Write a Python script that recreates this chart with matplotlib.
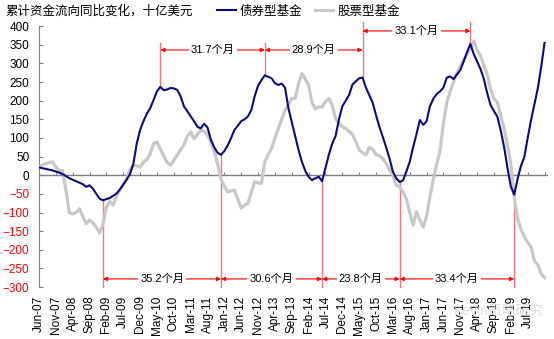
import numpy as np
import pandas as pd
import matplotlib
matplotlib.use("Agg")
import matplotlib.pyplot as plt

plt.rcParams['font.family'] = ['Liberation Sans', 'Noto Sans CJK SC', 'DejaVu Sans']
CJK = ['Noto Sans CJK SC', 'DejaVu Sans']

# monthly, Jun-2007 .. Dec-2019
start_month = '2007-06'
bond = [21, 19, 17, 15, 13, 10, 7, 3, -2, -8, -12, -16, -20, -24, -31, -27, -36, -50, -63, -67,
        -64, -61, -55, -49, -38, -25, -12, 3, 31, 85, 122, 145, 165, 180, 202, 225, 237, 228, 230, 234,
        233, 229, 212, 185, 172, 158, 145, 130, 126, 138, 128, 95, 75, 60, 55, 65, 80, 100, 122, 133,
        145, 150, 158, 175, 212, 240, 255, 268, 264, 260, 247, 242, 246, 235, 180, 143, 105, 68, 36, 12,
        -4, -13, -8, -4, -16, 20, 55, 85, 105, 150, 185, 200, 215, 243, 252, 260, 262, 235, 215, 195,
        161, 130, 103, 75, 45, 10, -8, -18, -14, 10, 36, 75, 110, 148, 135, 145, 185, 205, 218, 225,
        235, 262, 265, 258, 270, 282, 305, 330, 352, 325, 305, 285, 258, 220, 188, 172, 157, 120, 76, 20,
        -30, -52, -10, 25, 49, 100, 148, 190, 233, 290, 355]
equity = [22, 28, 31, 34, 36, 22, 13, 13, -40, -100, -104, -100, -90, -110, -130, -120, -128, -139, -155, -130,
          -85, -70, -80, -55, -40, -25, -8, 15, 27, 25, 22, 35, 42, 58, 85, 89, 70, 52, 35, 27,
          40, 54, 68, 81, 105, 116, 98, 110, 121, 118, 107, 90, 63, 30, -10, -30, -45, -42, -40, -65,
          -88, -80, -76, -45, -18, -20, -22, 36, 55, 72, 100, 125, 150, 174, 190, 206, 206, 245, 273, 258,
          242, 195, 178, 183, 183, 198, 206, 188, 152, 140, 130, 125, 118, 110, 90, 68, 60, 54, 75, 70,
          55, 52, 45, 32, 15, 0, -27, -30, -45, -63, -100, -134, -98, -120, -139, -110, -58, -10, 30, 67,
          140, 195, 225, 250, 275, 292, 309, 325, 340, 360, 336, 320, 295, 270, 230, 205, 195, 160, 125, 80,
          31, -58, -115, -145, -165, -180, -192, -230, -240, -264, -275]

# peak-to-peak (top) and trough-to-trough (bottom) intervals
peaks = [36, 67, 96, 128]
peak_labels = ['31.7个月', '28.9个月', '33.1个月']
troughs = [19, 54, 84, 107, 141]
trough_labels = ['35.2个月', '30.6个月', '23.8个月', '33.4个月']

dates = pd.date_range(start_month, periods=len(bond), freq='MS')
x = np.arange(len(bond))

fig = plt.figure(figsize=(5.54, 3.39), dpi=100)
ax = fig.add_axes([0.0704, 0.153, 0.9186, 0.770])

ax.plot(x, equity, color='#c8c8c8', lw=2.3, zorder=3, label='股票型基金')
ax.plot(x, bond, color='#0a0a82', lw=1.5, zorder=4, label='债券型基金')

ax.set_xlim(0, 151)
ax.set_ylim(-300, 400)

# zero line with small upward ticks
ax.axhline(0, color='#808080', lw=1, zorder=2)
ax.vlines(np.arange(0, 151, 5), 0, 8, color='#808080', lw=0.8, zorder=2)

for s in ['top', 'right', 'bottom']:
    ax.spines[s].set_visible(False)
ax.spines['left'].set_color('#808080')

ax.set_yticks(np.arange(-300, 401, 50))
ax.tick_params(axis='y', direction='in', length=3, color='#808080', pad=7, labelsize=8.5)
for lab, v in zip(ax.get_yticklabels(), np.arange(-300, 401, 50)):
    lab.set_color('red' if v < 0 else 'black')

xt = np.arange(0, 150, 5)
ax.set_xticks(xt)
ax.set_xticklabels([dates[i].strftime('%b-%y') for i in xt], rotation=90)
ax.tick_params(axis='x', length=0, pad=6, labelsize=8.5)

line_c = '#f07878'


def interval(ax, x0, x1, y, text):
    ax.annotate('', xy=(x0, y), xytext=(x1, y),
                arrowprops=dict(arrowstyle='<|-|>', color='red', lw=0.8,
                                mutation_scale=6, shrinkA=0, shrinkB=0),
                zorder=1)
    ax.text((x0 + x1) / 2, y, text, ha='center', va='center', fontsize=8,
            family=['Liberation Sans', 'Noto Sans CJK SC'],
            bbox=dict(facecolor='white', edgecolor='none', pad=1.5), zorder=2)


# top verticals
top_ends = [355, 355, 410, 410]
for p, t in zip(peaks, top_ends):
    ax.plot([p, p], [bond[p], t], color=line_c, lw=1, zorder=1, clip_on=False)
interval(ax, peaks[0], peaks[1], 336, peak_labels[0])
interval(ax, peaks[1], peaks[2], 336, peak_labels[1])
interval(ax, peaks[2], peaks[3], 387, peak_labels[2])

# bottom verticals
for tr in troughs:
    ax.plot([tr, tr], [bond[tr], -300], color=line_c, lw=1, zorder=1, clip_on=False)
for i, lab in enumerate(trough_labels):
    interval(ax, troughs[i], troughs[i + 1], -278, lab)

# title + legend
fig.text(0.009, 0.967, '累计资金流向同比变化，十亿美元', fontsize=9, family=CJK,
         va='center', ha='left')
leg = ax.legend(loc='center left', bbox_to_anchor=(0.392, 0.967),
                bbox_transform=fig.transFigure, ncol=2, frameon=False,
                handlelength=1.5, handletextpad=0.3, columnspacing=1.0,
                borderpad=0, borderaxespad=0, prop={'family': CJK, 'size': 9})
h = leg.legend_handles
# reorder so bond comes first
handles, labels = ax.get_legend_handles_labels()
leg.remove()
leg = ax.legend(handles[::-1], labels[::-1], loc='center left', bbox_to_anchor=(0.392, 0.967),
                bbox_transform=fig.transFigure, ncol=2, frameon=False,
                handlelength=1.5, handletextpad=0.3, columnspacing=1.0,
                borderpad=0, borderaxespad=0, prop={'family': CJK, 'size': 9})

# watermark
fig.text(0.82, 0.083, 'Kevin策略研究', fontsize=10, family=['Liberation Sans', 'Noto Sans CJK SC'],
         color='#d8d8d8', alpha=0.8, va='center', ha='left', zorder=10)

fig.savefig('out.png', dpi=100)
